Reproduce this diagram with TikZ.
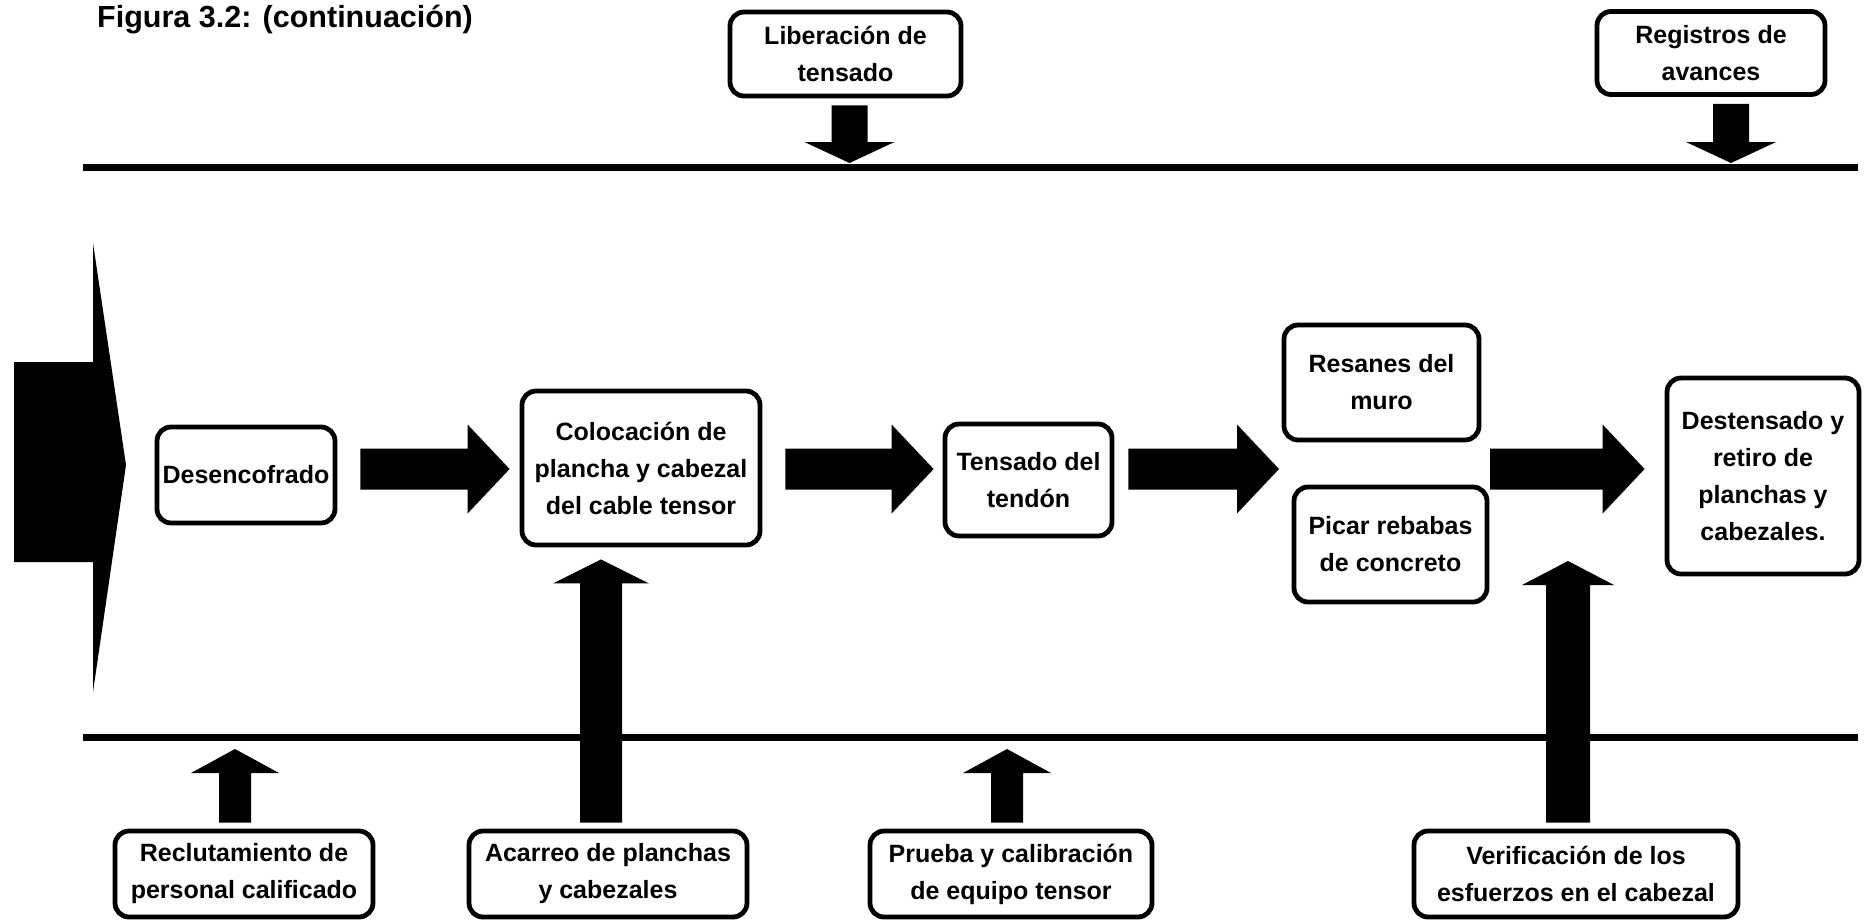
\documentclass[tikz,border=0pt]{standalone}
\usepackage{fontspec}
\setmainfont{Liberation Sans}
\usetikzlibrary{calc}

% Filled block arrow pointing right: #1 start, #2 tip, #3 shaft half-height, #4 head half-height, #5 head length
\newcommand\blockright[5]{%
  \fill let \p1=(#1), \p2=(#2) in
    (\x1,\y2+#3) -- (\x2-#5,\y2+#3) -- (\x2-#5,\y2+#4) -- (\x2,\y2)
    -- (\x2-#5,\y2-#4) -- (\x2-#5,\y2-#3) -- (\x1,\y2-#3) -- cycle;}
% Filled vertical block arrow: #1 start, #2 tip, #3 shaft half-width, #4 head half-width, #5 signed head length
\newcommand\blockvert[5]{%
  \fill let \p1=(#1), \p2=(#2), \n1={\y2-(#5)} in
    (\x2+#3,\y1) -- (\x2+#3,\n1) -- (\x2+#4,\n1) -- (\x2,\y2)
    -- (\x2-#4,\n1) -- (\x2-#3,\n1) -- (\x2-#3,\y1) -- cycle;}

\begin{document}
\begin{tikzpicture}[x=1pt,y=-1pt,
  box/.style={draw, line width=4.8pt, rounded corners=14pt, align=center,
    inner sep=0pt, font=\bfseries\fontsize{25}{37}\selectfont},
  rule/.style={line width=7pt}]
\useasboundingbox (0,0) rectangle (1865,922);

% title
\node[anchor=base west, inner sep=0pt, font=\bfseries\fontsize{30.5}{32}\selectfont]
  (title) at (97,27) {Figura 3.2: (continuación)};

% upper and lower boundary lines
\draw[rule] (83,167) -- (1858,167);
\draw[rule] (83,737) -- (1858,737);

% large entry arrow on the left
\fill (14,362) -- (93,362) -- (93,243) -- (126,465) -- (93,692) -- (93,562) -- (14,562) -- cycle;

% process steps
\node[box, minimum width=178pt, minimum height=96pt]  (desen)   at (246,475)    {Desencofrado};
\node[box, minimum width=238pt, minimum height=154pt] (coloc)   at (641,468)    {Colocación de\\plancha y cabezal\\del cable tensor};
\node[box, minimum width=167pt, minimum height=112pt] (tens)    at (1028.5,480) {Tensado del\\tendón};
\node[box, minimum width=195pt, minimum height=115pt] (resanes) at (1381.5,382.5) {Resanes del\\muro};
\node[box, minimum width=193pt, minimum height=115pt] (picar)   at (1390.5,544.5) {Picar rebabas\\de concreto};
\node[box, minimum width=192pt, minimum height=196pt] (destens) at (1763,476)   {Destensado y\\retiro de\\planchas y\\cabezales.};

% controls (top)
\node[box, minimum width=231pt, minimum height=84pt] (lib) at (845.5,54) {Liberación de\\tensado};
\node[box, minimum width=228pt, minimum height=83pt] (reg) at (1711,53)  {Registros de\\avances};

% resources (bottom)
\node[box, minimum width=258pt, minimum height=86pt] (recl)    at (244,874)  {Reclutamiento de\\personal calificado};
\node[box, minimum width=278pt, minimum height=86pt] (acarreo) at (608,874)  {Acarreo de planchas\\y cabezales};
\node[box, minimum width=282pt, minimum height=86pt] (prueba)  at (1011,874) {Prueba y calibración\\de equipo tensor};
\node[box, minimum width=324pt, minimum height=86pt] (verif)   at (1576,874) {Verificación de los\\esfuerzos en el cabezal};

% reference rows for arrow ends
\coordinate (row)  at (0,469);
\coordinate (topL) at (0,163);
\coordinate (botL) at (0,749);

% horizontal flow arrows
\path (desen.east |- row) ++(23pt,0) coordinate (a1s);
\path (coloc.west |- row) ++(-10pt,0) coordinate (a1t);
\path (coloc.east |- row) ++(23pt,0) coordinate (a2s);
\path (tens.west |- row) ++(-9pt,0) coordinate (a2t);
\path (tens.east |- row) ++(14pt,0) coordinate (a3s);
\coordinate (a3t) at (1279,469);
\coordinate (a4s) at (1490,469);
\path (destens.west |- row) ++(-20pt,0) coordinate (a4t);
\blockright{a1s}{a1t}{20.5pt}{44.5pt}{42pt}
\blockright{a2s}{a2t}{20.5pt}{44.5pt}{42pt}
\blockright{a3s}{a3t}{20.5pt}{44.5pt}{42pt}
\blockright{a4s}{a4t}{20.5pt}{44.5pt}{42pt}

% downward arrows from the controls
\path (lib.south) ++(4pt,-7pt) coordinate (l1s);
\path (reg.south) ++(20pt,-7pt) coordinate (r1s);
\coordinate (l1t) at (l1s |- topL);
\coordinate (r1t) at (r1s |- topL);
\blockvert{l1s}{l1t}{18pt}{45pt}{-21pt}
\blockvert{r1s}{r1t}{18pt}{45pt}{-21pt}

% upward arrows from the resources
\path (recl.north) ++(-9pt,6pt) coordinate (b1s);
\path (prueba.north) ++(-4pt,6pt) coordinate (b3s);
\coordinate (b1t) at (b1s |- botL);
\coordinate (b3t) at (b3s |- botL);
\blockvert{b1s}{b1t}{16pt}{44pt}{24pt}
\blockvert{b3s}{b3t}{16pt}{44pt}{24pt}

\path (acarreo.north) ++(-7pt,6pt) coordinate (b2s);
\path (coloc.south) ++(-40pt,-12pt) coordinate (b2t);
\blockvert{b2s}{b2t}{21pt}{48pt}{24pt}

\path (verif.north) ++(-8pt,6pt) coordinate (b4s);
\coordinate (b4t) at (1568,561);
\blockvert{b4s}{b4t}{22pt}{46pt}{24pt}
\end{tikzpicture}
\end{document}
